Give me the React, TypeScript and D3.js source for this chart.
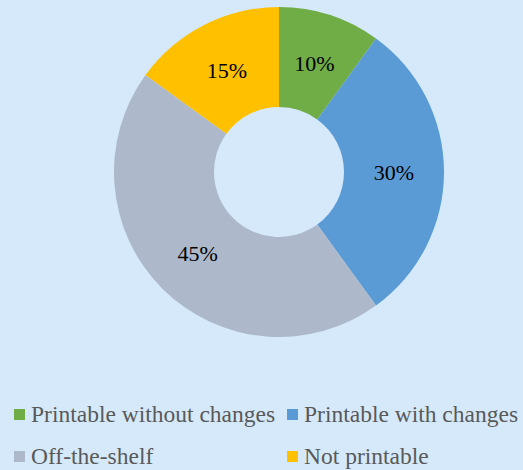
import React from "react";
import * as d3 from "d3";

const categories = ["Printable without changes", "Printable with changes", "Off-the-shelf", "Not printable"];
const values = [10, 30, 45, 15];
const colors = ["#70AD47", "#5B9BD5", "#ADB9CA", "#FFC000"];

const W = 523, H = 470;
const cx = 279, cy = 172, rOuter = 165, rInner = 65;
const SERIF = "'Liberation Serif', 'Times New Roman', Times, 'DejaVu Serif', serif";

export default function App() {
  const pie = d3.pie<number>().sort(null).value((d) => d)(values);
  const arc = d3.arc<d3.PieArcDatum<number>>().innerRadius(rInner).outerRadius(rOuter);
  const total = d3.sum(values);
  const legendPos = [
    { x: 14, y: 409 },
    { x: 287, y: 409 },
    { x: 14, y: 451 },
    { x: 287, y: 451 },
  ];
  return (
    <svg width={W} height={H} style={{ position: "absolute", left: 0, top: 0, background: "#D5E9FB", fontFamily: SERIF }}>
      <rect width={W} height={H} fill="#D5E9FB" />
      <g transform={`translate(${cx},${cy})`}>
        {pie.map((p, i) => (
          <path key={i} d={arc(p) || ""} fill={colors[i]} />
        ))}
        {pie.map((p, i) => {
          const [x, y] = arc.centroid(p);
          return (
            <text key={"t" + i} x={x} y={y + 8} textAnchor="middle" fontSize={22} fill="#000"
              style={{ fontFamily: SERIF }}>
              {Math.round((values[i] / total) * 100)}%
            </text>
          );
        })}
      </g>
      {categories.map((c, i) => (
        <g key={"l" + i}>
          <rect x={legendPos[i].x} y={legendPos[i].y} width={11} height={11} fill={colors[i]} />
          <text x={legendPos[i].x + 17} y={legendPos[i].y + 13} fontSize={23.5} fill="#595959"
            style={{ fontFamily: SERIF }}>{c}</text>
        </g>
      ))}
    </svg>
  );
}
